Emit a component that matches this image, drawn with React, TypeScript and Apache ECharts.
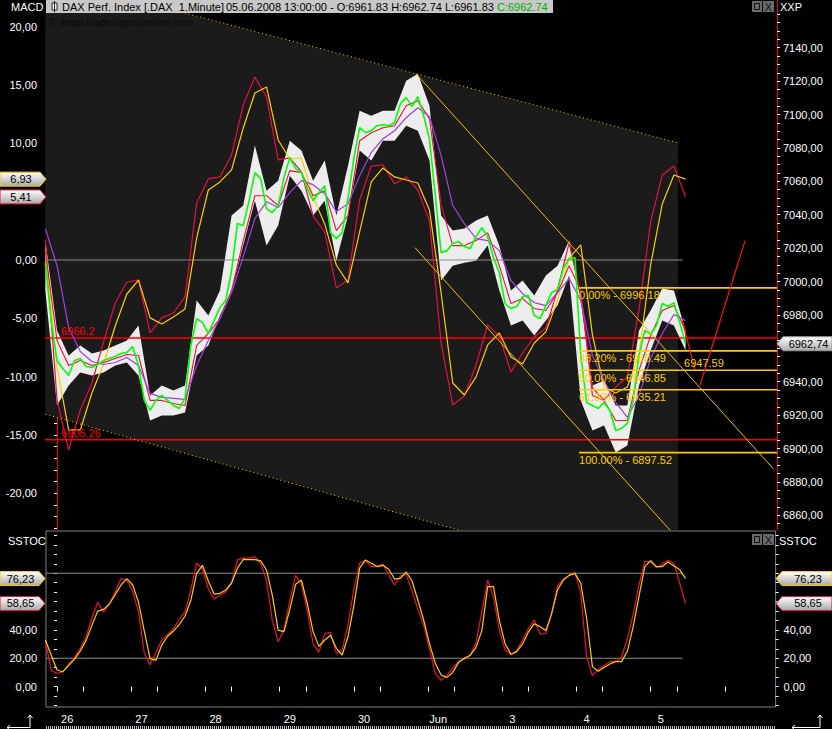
import React, { useEffect, useRef } from 'react';
import * as echarts from 'echarts';

// ---------- time axis (minutes since 26 May 09:00, 510 trading minutes per day) ----------
const DAY_MINUTES = 510;
const MIDDAY_OFFSET = 180;
const LABEL_OFFSET = 70;
const dayLabels = ['26', '27', '28', '29', '30', 'Jun', '3', '4', '5'];
const SERIES_START = -80;
const FINE_STEP = 40;
const COARSE_STEP = 80;

// ---------- price panel (right axis) ----------
const closeFast = [
  7011.3, 6976.6, 6952.7, 6947.9, 6943.7, 6952.7, 6953.9, 6949.1, 6948.5, 6950.3,
  6952.7, 6953.9, 6955.1, 6956.9, 6957.5, 6961.1, 6949.7, 6928.8, 6922.8, 6928.8,
  6931.8, 6928.8, 6925.8, 6924.0, 6930.0, 6961.7, 6977.8, 6975.4, 6968.9, 6976.6,
  6984.4, 6988.6, 7006.6, 7034.7, 7033.5, 7048.4, 7065.2, 7061.6, 7043.7, 7041.3,
  7045.5, 7062.2, 7074.2, 7067.6, 7065.2, 7055.6, 7048.4, 7053.2, 7057.4, 7029.3,
  7025.7, 7029.3, 7049.6, 7073.6, 7092.1, 7089.1, 7090.3, 7093.3, 7093.9, 7093.3,
  7095.1, 7106.5, 7110.1, 7104.7, 7110.7, 7099.3, 7085.5, 7051.4, 7017.3, 7018.5,
  7022.7, 7023.9, 7020.9, 7019.7, 7026.9, 7032.3, 7026.9, 7014.3, 7005.4, 6986.8,
  6983.8, 6985.0, 6991.0, 6991.6, 6979.6, 6977.8, 6985.6, 6993.4, 6995.2, 7007.8,
  7013.7, 7014.3, 6955.7, 6927.6, 6925.8, 6924.0, 6927.6, 6922.8, 6910.8, 6912.0,
  6915.0, 6928.8, 6955.7, 6970.7, 6968.3, 6973.6, 6986.8, 6985.0, 6987.4, 6975.4,
  6962.74,
];
const bandHigh = [
  7024.5, 6970.7, 6955.7, 6961.7, 6956.9, 6958.7, 6961.7, 6964.7, 6973.6, 6931.8,
  6937.7, 6934.7, 6937.7, 6988.6, 6979.6, 6994.6, 7039.5, 7045.5, 7081.4, 7054.4,
  7060.4, 7084.3, 7078.4, 7060.4, 7072.4, 7039.5, 7069.4, 7102.3, 7099.3, 7102.3,
  7102.3, 7120.3, 7124.4, 7105.3, 7039.5, 7030.5, 7031.7, 7036.5, 7039.5, 7021.5,
  6994.6, 7000.6, 6991.6, 7003.6, 7009.5, 7024.5, 6988.6, 6937.7, 6940.7, 6925.8,
  6925.8, 6970.7, 6982.6, 6995.8, 6994.6, 6970.7,
];
const bandLow = [
  6994.6, 6925.8, 6937.7, 6945.5, 6943.7, 6945.5, 6949.7, 6951.5, 6943.7, 6916.8,
  6919.8, 6919.8, 6921.6, 6955.7, 6961.7, 6979.6, 6994.6, 7021.5, 7048.4, 7021.5,
  7033.5, 7063.4, 7054.4, 7039.5, 7048.4, 7012.5, 7039.5, 7078.4, 7072.4, 7084.3,
  7084.3, 7093.3, 7090.3, 7072.4, 7000.6, 7009.5, 7011.3, 7012.5, 7021.5, 6994.6,
  6973.6, 6976.6, 6967.7, 6976.6, 6985.6, 7003.6, 6928.8, 6910.8, 6913.8, 6897.6,
  6901.8, 6937.7, 6958.7, 6976.6, 6973.6, 6958.7,
];
const maRed = [
  7018.5, 6964.7, 6949.7, 6952.7, 6949.7, 6951.5, 6953.9, 6956.3, 6955.7, 6928.8,
  6928.8, 6927.0, 6925.8, 6961.7, 6968.9, 6977.8, 6994.6, 7024.5, 7051.4, 7051.4,
  7045.5, 7066.4, 7065.2, 7051.4, 7054.4, 7030.5, 7039.5, 7084.3, 7089.1, 7092.1,
  7093.3, 7105.3, 7108.3, 7097.5, 7046.0, 7021.5, 7021.5, 7024.5, 7029.3, 7009.5,
  6986.8, 6989.8, 6983.8, 6982.6, 6993.4, 7009.5, 6994.6, 6931.8, 6928.8, 6916.8,
  6916.8, 6946.7, 6967.7, 6982.6, 6985.6, 6970.7,
];
const maPurple = [
  7031.7, 7009.5, 6972.4, 6958.1, 6952.1, 6950.3, 6951.5, 6954.5, 6949.7, 6933.0,
  6930.6, 6930.0, 6929.4, 6949.7, 6964.7, 6977.8, 6993.4, 7014.9, 7037.7, 7047.8,
  7044.3, 7053.2, 7060.4, 7058.0, 7052.6, 7041.9, 7046.6, 7063.4, 7077.2, 7085.5,
  7090.3, 7098.1, 7104.1, 7098.7, 7075.4, 7045.5, 7034.7, 7025.7, 7024.5, 7018.5,
  7000.6, 6992.8, 6987.4, 6985.6, 6993.4, 7001.8, 6988.6, 6955.7, 6940.7, 6927.6,
  6918.6, 6931.8, 6953.9, 6968.9, 6980.2, 6976.6,
];

// ---------- MACD (left axis) ----------
const macdLine = [
  1.72, -12.01, -16.3, -12.86, -10.55, -7.03, -3.69, -1.89, -1.72, -6.26,
  -4.97, -4.55, -3.17, 4.89, 6.95, 7.12, 9.01, 13.29, 15.69, 13.98,
  8.58, 8.75, 7.55, 3.77, 2.4, -2.4, -1.72, 5.15, 8.06, 8.15,
  6.52, 7.12, 6.0, 3.34, -7.12, -12.44, -11.66, -9.01, -5.57, -6.52,
  -9.61, -7.98, -6.6, -5.83, -2.57, 1.46, -3.0, -10.98, -12.01, -10.89,
  -10.03, -4.29, 3.26, 7.29, 8.06, 5.41,
];
const signalLine = [
  0.86, -9.18, -14.58, -14.58, -11.41, -8.92, -5.66, -2.92, -1.72, -4.97,
  -5.49, -4.89, -4.2, 1.89, 6.0, 6.69, 7.72, 11.32, 14.32, 14.84,
  10.29, 8.66, 8.75, 5.4, 3.09, -0.43, -1.97, 2.4, 6.69, 7.89,
  7.12, 6.86, 6.6, 4.29, -2.83, -10.55, -11.58, -10.03, -7.29, -6.26,
  -8.32, -8.92, -7.12, -6.17, -3.43, 0.17, 1.29, -6.43, -10.89, -11.41,
  -10.89, -8.15, -0.43, 4.8, 7.29, 6.93,
];

// ---------- Slow stochastic ----------
const stochK = [
  32.9, 11.2, 9.4, 10.3, 15.9, 20.4, 27.0, 35.2, 48.2, 59.5,
  52.7, 58.3, 67.0, 76.2, 75.2, 67.0, 52.9, 23.5, 15.5, 24.0,
  32.9, 36.6, 40.7, 47.5, 52.9, 68.2, 87.3, 82.8, 68.9, 61.8,
  64.4, 67.0, 72.9, 89.4, 90.8, 90.5, 91.7, 87.0, 74.8, 46.5,
  31.7, 39.9, 60.9, 78.5, 72.4, 53.4, 30.5, 24.2, 37.4, 38.3,
  23.5, 25.8, 43.5, 68.7, 87.0, 89.1, 84.7, 84.7, 86.5, 78.8,
  71.5, 78.1, 79.2, 67.5, 54.5, 43.5, 26.5, 9.1, 4.4, 7.9,
  13.1, 17.8, 19.5, 22.1, 31.2, 52.9, 75.2, 63.5, 39.9, 25.8,
  22.5, 25.4, 32.9, 40.9, 47.0, 37.1, 37.4, 51.7, 71.0, 75.7,
  78.5, 80.6, 65.8, 21.1, 7.7, 12.2, 14.8, 17.6, 17.6, 20.7,
  33.8, 51.0, 71.7, 88.2, 88.2, 83.9, 86.5, 89.1, 87.0, 72.9,
  58.65,
];
const stochD = [
  32.9, 22.3, 11.7, 10.5, 15.0, 19.2, 25.1, 32.6, 43.2, 53.3,
  54.5, 58.3, 64.9, 71.7, 76.2, 71.7, 59.7, 39.2, 19.7, 18.5,
  29.3, 35.5, 39.2, 43.7, 49.8, 60.9, 79.9, 85.6, 74.5, 65.3,
  65.8, 68.2, 73.1, 83.5, 89.8, 89.6, 89.6, 88.7, 82.3, 64.4,
  39.9, 38.8, 54.5, 72.2, 75.2, 58.8, 38.8, 28.4, 32.9, 36.2,
  27.0, 22.3, 35.2, 56.9, 83.5, 89.4, 87.0, 84.7, 85.6, 82.8,
  75.9, 76.4, 80.9, 74.5, 61.1, 47.0, 30.3, 16.4, 8.2, 6.5,
  10.0, 17.1, 19.9, 22.1, 27.7, 39.5, 70.5, 70.5, 46.8, 30.1,
  22.8, 24.7, 30.1, 38.5, 44.4, 42.3, 39.5, 51.7, 68.2, 75.2,
  78.5, 79.9, 72.9, 48.2, 14.1, 10.8, 13.4, 15.9, 17.6, 17.6,
  24.9, 42.3, 63.7, 84.7, 88.9, 84.7, 84.7, 87.9, 85.1, 82.5,
  76.23,
];
const stochLevels = [80, 20];

// ---------- drawing tools ----------
const channelTimes = [-80, 4268];
const channelUpper = [7182.8, 7083.1];
const channelLower = [6920.5, 6814.4];
const trendATimes = [2467, 4921];
const trendAValues = [7124.4, 6888.1];
const trendBTimes = [2460, 4227];
const trendBValues = [7020.3, 6849.8];
const projATimes = [4296, 4385];
const projAValues = [6976.6, 6947.59];
const projBTimes = [4419, 4729];
const projBValues = [6937.7, 7024.5];
const projectionTarget = 6947.59;
const levelValues = [6966.2, 6905.26];
const levelLabels = ['6966.2', '6905.26'];
const LEVEL_LABEL_TIME = 27;
const fibLevels = [6996.18, 6958.49, 6946.85, 6935.21, 6897.52];
const fibPcts = ['0.00%', '38.20%', '50.00%', '61.80%', '100.00%'];
const FIB_START = 3588;
const ZERO_END = 4300;

const headerName = 'DAX Perf. Index [.DAX  1.Minute]';
const headerQuote = '05.06.2008 13:00:00 - O:6961.83 H:6962.74 L:6961.83 ';
const headerClose = 'C:6962.74';

// ---------- axis ranges ----------
const X_MIN_MAIN = -82.5;
const X_MAX_MAIN = 4948.6;
const X_MIN_LOW = -75.6;
const X_MAX_LOW = 4938.9;
const MACD_MIN = -23.16;
const MACD_MAX = 21.18;
const PRICE_MIN = 6851.2;
const PRICE_MAX = 7160.8;
const STOCH_MIN = -14.4;
const STOCH_MAX = 109.8;

// labels hidden behind the value tags (5,00 / 6960,00 / 60,00 / 80,00) are left out
const macdLabelValues = [-20, -15, -10, -5, 0, 10, 15, 20];
const priceLabelValues = [6860, 6880, 6900, 6920, 6940, 6980, 7000, 7020, 7040, 7060, 7080, 7100, 7120, 7140];
const stochLabelValues = [0, 20, 40];

const FONT_FAMILY = '"Liberation Sans", Arial, sans-serif';
const FONT = '11px ' + FONT_FAMILY;
const YELLOW = '#ffcc00';
const CRIMSON = '#e8103c';

function range(a: number, b: number, step: number) {
  const out: number[] = [];
  for (let v = a; v <= b + 1e-9; v += step) out.push(Math.round(v * 1000) / 1000);
  return out;
}
const comma = (v: number) => v.toFixed(2).replace('.', ',');

export default function App() {
  const ref = useRef<HTMLDivElement>(null);

  useEffect(() => {
    if (!ref.current) return;
    const chart = echarts.init(ref.current, undefined, { renderer: 'svg' });

    const fineT = closeFast.map((_, i) => SERIES_START + FINE_STEP * i);
    const coarseT = maPurple.map((_, i) => SERIES_START + COARSE_STEP * i);
    const pair = (ts: number[], vs: number[]) => vs.map((v, i) => [ts[i], v]);

    const xTicks: number[] = [];
    for (let k = 0; k <= 9; k++) {
      xTicks.push(k * DAY_MINUTES);
      if (k < 9) xTicks.push(k * DAY_MINUTES + MIDDAY_OFFSET);
    }
    const xLabelValues = dayLabels.map((_, k) => k * DAY_MINUTES + LABEL_OFFSET);

    const line = (data: any[], color: string, xi: number, yi: number, width = 1.2, extra: any = {}) => ({
      type: 'line',
      data,
      xAxisIndex: xi,
      yAxisIndex: yi,
      showSymbol: false,
      symbol: 'none',
      silent: true,
      clip: true,
      lineStyle: { color, width, ...(extra.lineStyle || {}) },
    });

    const series: any[] = [
      {
        type: 'custom',
        xAxisIndex: 0,
        yAxisIndex: 1,
        silent: true,
        clip: true,
        z: 1,
        data: [[channelTimes[0], channelLower[0]]],
        renderItem: (_p: any, api: any) => {
          const pts = [
            api.coord([channelTimes[0], channelUpper[0]]),
            api.coord([channelTimes[1], channelUpper[1]]),
            api.coord([channelTimes[1], channelLower[1]]),
            api.coord([channelTimes[0], channelLower[0]]),
          ];
          return { type: 'polygon', shape: { points: pts }, style: { fill: '#1b1b1b' } };
        },
      },
      line([[X_MIN_MAIN, 0], [ZERO_END, 0]], '#8c8c8c', 0, 0, 1),
      ...levelValues.map((v) => line([[X_MIN_MAIN, v], [X_MAX_MAIN, v]], '#ff0000', 0, 1, 1.5)),
      line(pair(coarseT, macdLine), CRIMSON, 0, 0, 1.2),
      line(pair(coarseT, signalLine), YELLOW, 0, 0, 1.2),
      {
        type: 'custom',
        xAxisIndex: 0,
        yAxisIndex: 1,
        silent: true,
        clip: true,
        data: [[coarseT[0], bandLow[0]]],
        renderItem: (_p: any, api: any) => {
          const pts: number[][] = [];
          bandHigh.forEach((v, i) => pts.push(api.coord([coarseT[i], v])));
          for (let i = bandLow.length - 1; i >= 0; i--) pts.push(api.coord([coarseT[i], bandLow[i]]));
          return { type: 'polygon', shape: { points: pts }, style: { fill: '#ffffff', opacity: 0.92 } };
        },
      },
      line(pair(coarseT, maRed), CRIMSON, 0, 1, 1.1),
      line(pair(coarseT, maPurple), '#a040e0', 0, 1, 1.2),
      line(pair(fineT, closeFast), '#00ff00', 0, 1, 1.6),
      line(pair(channelTimes, channelUpper), YELLOW, 0, 1, 1, { lineStyle: { type: [1, 3] } }),
      line(pair(channelTimes, channelLower), YELLOW, 0, 1, 1, { lineStyle: { type: [1, 3] } }),
      line(pair(trendATimes, trendAValues), '#f0c000', 0, 1, 1),
      line(pair(trendBTimes, trendBValues), '#f0c000', 0, 1, 1),
      ...fibLevels.map((v) => line([[FIB_START, v], [X_MAX_MAIN, v]], YELLOW, 0, 1, 1.6)),
      line(pair(projATimes, projAValues), '#ff1010', 0, 1, 1.2),
      line(pair(projBTimes, projBValues), '#ff1010', 0, 1, 1.2),
      ...stochLevels.map((v) => line([[X_MIN_LOW, v], [ZERO_END, v]], '#8c8c8c', 1, 2, 1)),
      line(pair(fineT, stochK), CRIMSON, 1, 2, 1.2),
      line(pair(fineT, stochD), YELLOW, 1, 2, 1.2),
    ];

    const axisLabelBase = { color: '#ffffff', fontSize: 11, fontFamily: FONT_FAMILY };
    const stochTicks = range(-40 / 3, 320 / 3, 20 / 3);

    const option: any = {
      animation: false,
      backgroundColor: '#000000',
      grid: [
        { left: 45, right: 55, top: 13, bottom: 199, show: false },
        { left: 46, right: 56.4, top: 531, bottom: 22, show: true, borderColor: '#808080', borderWidth: 1, backgroundColor: '#000' },
      ],
      xAxis: [
        {
          type: 'value', gridIndex: 0, min: X_MIN_MAIN, max: X_MAX_MAIN,
          axisLine: { show: false }, axisTick: { show: false }, axisLabel: { show: false }, splitLine: { show: false },
        },
        {
          type: 'value', gridIndex: 1, min: X_MIN_LOW, max: X_MAX_LOW, position: 'bottom',
          axisLine: { show: false },
          axisTick: { show: true, customValues: xTicks, length: 5, inside: false, lineStyle: { color: '#ffffff' } },
          axisLabel: {
            ...axisLabelBase, customValues: xLabelValues, margin: 6,
            formatter: (v: number) => dayLabels[Math.round((v - LABEL_OFFSET) / DAY_MINUTES)] ?? '',
          },
          splitLine: { show: false },
        },
      ],
      yAxis: [
        {
          type: 'value', gridIndex: 0, position: 'left', min: MACD_MIN, max: MACD_MAX,
          axisLine: { show: true, lineStyle: { color: '#ff0000', width: 1 } },
          axisTick: { show: true, customValues: range(-23, 21, 1), length: 3, lineStyle: { color: '#ffffff' } },
          axisLabel: { ...axisLabelBase, customValues: macdLabelValues, margin: 8, formatter: comma },
          splitLine: { show: false },
        },
        {
          type: 'value', gridIndex: 0, position: 'right', min: PRICE_MIN, max: PRICE_MAX,
          axisLine: { show: true, lineStyle: { color: '#ff0000', width: 1 } },
          axisTick: { show: true, customValues: range(6855, 7160, 5), length: 3, lineStyle: { color: '#ffffff' } },
          axisLabel: { ...axisLabelBase, customValues: priceLabelValues, margin: 6, formatter: comma },
          splitLine: { show: false },
        },
        {
          type: 'value', gridIndex: 1, position: 'left', min: STOCH_MIN, max: STOCH_MAX,
          axisLine: { show: false },
          axisTick: { show: true, customValues: stochTicks, length: 3, lineStyle: { color: '#ffffff' } },
          axisLabel: { ...axisLabelBase, customValues: stochLabelValues, margin: 9, formatter: comma },
          splitLine: { show: false },
        },
        {
          type: 'value', gridIndex: 1, position: 'right', min: STOCH_MIN, max: STOCH_MAX,
          axisLine: { show: false },
          axisTick: { show: true, customValues: stochTicks, length: 3, lineStyle: { color: '#ffffff' } },
          axisLabel: { ...axisLabelBase, customValues: stochLabelValues, margin: 8, formatter: comma },
          splitLine: { show: false },
        },
      ],
      series,
    };

    chart.setOption(option);

    const px = (xi: number, v: number) => chart.convertToPixel({ xAxisIndex: xi } as any, v) as number;
    const py = (yi: number, v: number) => chart.convertToPixel({ yAxisIndex: yi } as any, v) as number;

    const T = (x: number, y: number, text: string, fill: string, align = 'left', vAlign = 'middle', z = 100) => ({
      type: 'text', x, y, z, silent: true,
      style: { text, fill, font: FONT, align, verticalAlign: vAlign, textAlign: align, textVerticalAlign: vAlign },
    });
    const grad = () =>
      new echarts.graphic.LinearGradient(0, 0, 0, 1, [
        { offset: 0, color: '#ffffff' },
        { offset: 1, color: '#aaaaaa' },
      ]);
    const leftTag = (y: number, text: string, border: string, tip: number) => [
      { type: 'polygon', z: 110, silent: true, shape: { points: [[0, y - 7], [tip - 6, y - 7], [tip, y], [tip - 6, y + 7], [0, y + 7]] }, style: { fill: grad(), stroke: border, lineWidth: 1 } },
      T(tip / 2 - 2, y, text, '#000', 'center', 'middle', 120),
    ];
    const rightTag = (y: number, text: string, border: string, tip: number) => [
      { type: 'polygon', z: 110, silent: true, shape: { points: [[tip, y], [tip + 6, y - 7], [832, y - 7], [832, y + 7], [tip + 6, y + 7]] }, style: { fill: grad(), stroke: border, lineWidth: 1 } },
      T((tip + 6 + 832) / 2 + 1, y, text, '#000', 'center', 'middle', 120),
    ];
    const icons = (y: number) => [
      { type: 'rect', z: 100, silent: true, shape: { x: 752, y, width: 10, height: 11 }, style: { fill: '#6a6a6a' } },
      { type: 'rect', z: 101, silent: true, shape: { x: 754.5, y: y + 2.5, width: 5, height: 6 }, style: { fill: 'none', stroke: '#111', lineWidth: 1 } },
      { type: 'rect', z: 100, silent: true, shape: { x: 763, y, width: 11, height: 11 }, style: { fill: '#6a6a6a' } },
      T(768.5, y + 5.5, 'X', '#111', 'center', 'middle', 101),
    ];
    const cornerArrow = (x0: number, x1: number) => [
      { type: 'polyline', z: 100, silent: true, shape: { points: [[x0, 727.5], [x1, 727.5], [x1, 715]] }, style: { stroke: '#ffffff', lineWidth: 1, fill: 'none' } },
      { type: 'polyline', z: 100, silent: true, shape: { points: [[x1 - 2.5, 718], [x1, 715], [x1 + 2.5, 718]] }, style: { stroke: '#ffffff', lineWidth: 1, fill: 'none' } },
      { type: 'polyline', z: 100, silent: true, shape: { points: [[x0 + 3, 725], [x0, 727.5], [x0 + 3, 730]] }, style: { stroke: '#ffffff', lineWidth: 1, fill: 'none' } },
    ];

    const lastSignal = signalLine[signalLine.length - 1];
    const lastMacd = macdLine[macdLine.length - 1];
    const lastPrice = closeFast[closeFast.length - 1];
    const lastD = stochD[stochD.length - 1];
    const lastK = stochK[stochK.length - 1];

    const graphics: any[] = [
      { type: 'rect', z: 100, silent: true, shape: { x: 46, y: 0, width: 507, height: 13 }, style: { fill: '#c8c8c8' } },
      { type: 'rect', z: 101, silent: true, shape: { x: 52, y: 3, width: 5, height: 7 }, style: { fill: '#ffffff', stroke: '#222', lineWidth: 1 } },
      { type: 'line', z: 101, silent: true, shape: { x1: 54.5, y1: 1, x2: 54.5, y2: 12 }, style: { stroke: '#222', lineWidth: 1 } },
      T(62, 7, headerName, '#000', 'left', 'middle', 102),
      {
        type: 'text', x: 226, y: 7, z: 102, silent: true,
        style: {
          text: '{k|' + headerQuote + '}{g|' + headerClose + '}',
          font: FONT, verticalAlign: 'middle', textVerticalAlign: 'middle',
          rich: { k: { fill: '#000', font: FONT }, g: { fill: '#00b000', font: FONT } },
        },
      },
      T(11, 7, 'MACD', '#ffffff'),
      T(780, 7, 'XXP', '#ffffff'),
      T(49, 22, '\u00a9 www.tradesignalonline.com', '#0a0a0a', 'left', 'middle', 3),
      { type: 'line', z: 100, silent: true, shape: { x1: 777.5, y1: 0, x2: 777.5, y2: 13 }, style: { stroke: '#ff0000', lineWidth: 1 } },
      ...icons(1),
      ...icons(534),
      T(8, 541, 'SSTOC', '#ffffff'),
      T(779, 541, 'SSTOC', '#ffffff'),
      ...cornerArrow(7, 30),
      ...cornerArrow(792, 820),
      { type: 'line', z: 100, silent: true, shape: { x1: 46, y1: 727.5, x2: 776, y2: 727.5 }, style: { stroke: '#bdbdbd', lineWidth: 3, lineDash: [1, 1] } },
    ];

    levelValues.forEach((v, i) => {
      graphics.push(T(px(0, LEVEL_LABEL_TIME), py(1, v) - 1, levelLabels[i], '#ff0000', 'left', 'bottom'));
    });
    fibLevels.forEach((v, i) => {
      graphics.push(T(px(0, FIB_START), py(1, v) + 2, fibPcts[i] + ' - ' + v.toFixed(2), YELLOW, 'left', 'top'));
    });
    graphics.push(T(px(0, projATimes[0]) + 2, py(1, projectionTarget) - 1, projectionTarget.toFixed(2), YELLOW, 'left', 'bottom'));

    graphics.push(...leftTag(py(0, lastSignal), comma(lastSignal), YELLOW, 46));
    graphics.push(...leftTag(py(0, lastMacd), comma(lastMacd), CRIMSON, 46));
    graphics.push(...rightTag(py(1, lastPrice), comma(lastPrice), '#9a9a9a', 777));
    graphics.push(...leftTag(py(2, lastD), comma(lastD), YELLOW, 45));
    graphics.push(...leftTag(py(2, lastK), comma(lastK), CRIMSON, 45));
    graphics.push(...rightTag(py(2, lastD), comma(lastD), YELLOW, 776));
    graphics.push(...rightTag(py(2, lastK), comma(lastK), CRIMSON, 776));

    chart.setOption({ graphic: { elements: graphics } });

    return () => chart.dispose();
  }, []);

  return <div ref={ref} style={{ position: 'fixed', left: 0, top: 0, width: 832, height: 729, background: '#000' }} />;
}
